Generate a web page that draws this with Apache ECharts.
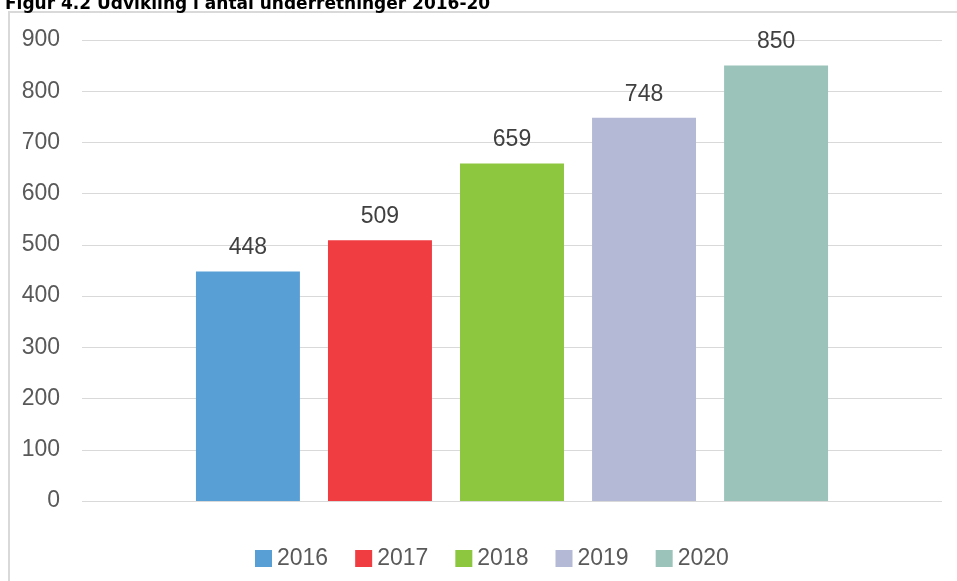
<!DOCTYPE html>
<html>
<head>
<meta charset="utf-8">
<script src="https://cdn.jsdelivr.net/npm/echarts@6/dist/echarts.min.js"></script>
<style>
  html, body { margin: 0; padding: 0; background: #fff; }
  #main { width: 957px; height: 581px; }
</style>
</head>
<body>
<div id="main"></div>
<script>
var years = ['2016', '2017', '2018', '2019', '2020'];
var counts = [448, 509, 659, 748, 850];
var colors = ['#579fd5', '#ef3d42', '#8dc63f', '#b4b9d6', '#9bc3b9'];
var yTicks = [0, 900, 100];

window.onload = function () {
    var myChart = echarts.init(document.getElementById('main'));

    var series = years.map(function (y, i) {
        return {
            name: y,
            type: 'bar',
            data: [counts[i]],
            barGap: '27%',
            barCategoryGap: '26.5%',
            itemStyle: { color: colors[i] },
            label: {
                show: true,
                position: 'top',
                distance: 12,
                color: '#404040',
                fontSize: 23,
                fontFamily: 'Liberation Sans, Arial'
            }
        };
    });

    var options = {
        animation: false,
        title: {
            text: 'Figur 4.2 Udvikling i antal underretninger 2016-20',
            left: 0,
            top: -9,
            textStyle: {
                fontFamily: 'DejaVu Sans',
                fontWeight: 'bold',
                fontSize: 17,
                color: '#000'
            }
        },
        graphic: [{
            type: 'rect',
            shape: { x: 9, y: 12, width: 960, height: 580 },
            style: { fill: 'none', stroke: '#d9d9d9', lineWidth: 2 },
            silent: true,
            z: -1
        }],
        legend: {
            bottom: 6,
            left: 250,
            itemWidth: 17,
            itemHeight: 17,
            itemGap: 27,
            icon: 'rect',
            textStyle: {
                fontSize: 23,
                color: '#595959',
                fontFamily: 'Liberation Sans, Arial'
            },
            data: years
        },
        grid: {
            left: 82,
            right: 15,
            top: 40,
            bottom: 80
        },
        xAxis: {
            type: 'category',
            data: [''],
            axisLine: { show: false },
            axisTick: { show: false },
            axisLabel: { show: false }
        },
        yAxis: {
            type: 'value',
            min: yTicks[0],
            max: yTicks[1],
            interval: yTicks[2],
            axisLine: { show: false },
            axisTick: { show: false },
            axisLabel: {
                fontSize: 23,
                color: '#595959',
                margin: 22,
                fontFamily: 'Liberation Sans, Arial'
            },
            splitLine: {
                lineStyle: { color: '#d9d9d9', width: 1 }
            }
        },
        series: series
    };
    myChart.setOption(options);
};
</script>
</body>
</html>
